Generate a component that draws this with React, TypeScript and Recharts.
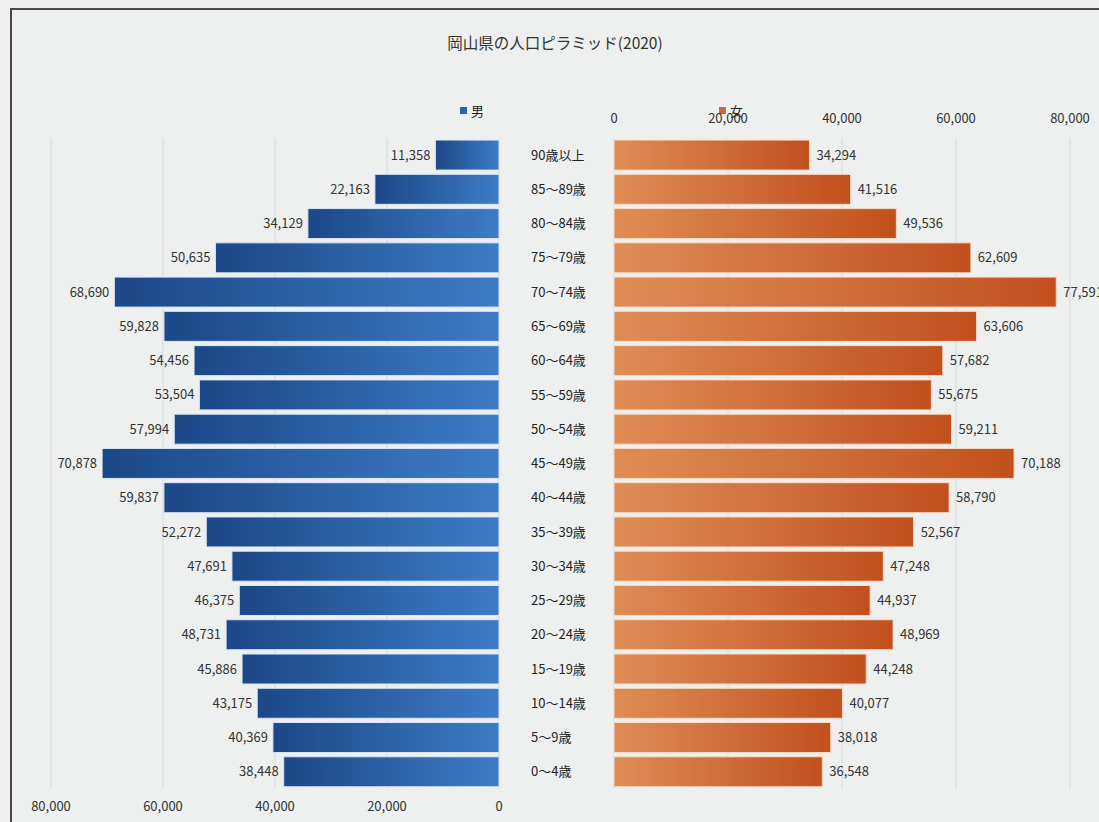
import React from "react";
import { BarChart, Bar, XAxis, YAxis, CartesianGrid } from "recharts";

const ages = [
  "90歳以上", "85～89歳", "80～84歳", "75～79歳", "70～74歳", "65～69歳", "60～64歳",
  "55～59歳", "50～54歳", "45～49歳", "40～44歳", "35～39歳", "30～34歳", "25～29歳",
  "20～24歳", "15～19歳", "10～14歳", "5～9歳", "0～4歳",
];
const male = [
  11358, 22163, 34129, 50635, 68690, 59828, 54456, 53504, 57994, 70878,
  59837, 52272, 47691, 46375, 48731, 45886, 43175, 40369, 38448,
];
const female = [
  34294, 41516, 49536, 62609, 77591, 63606, 57682, 55675, 59211, 70188,
  58790, 52567, 47248, 44937, 48969, 44248, 40077, 38018, 36548,
];
const ticks = [0, 20000, 40000, 60000, 80000];

const rows = ages.map((age, i) => ({ age, male: male[i], female: female[i] }));

const FONT = '"Noto Sans CJK JP", "Noto Sans", sans-serif';
const fmt = (v: number) => v.toLocaleString("en-US");

function MaleLabel(p: any) {
  const left = Math.min(p.x, p.x + p.width);
  return (
    <text x={left - 5} y={p.y + p.height / 2} dy="0.35em" textAnchor="end"
      fontSize={13} fill="#333" fontFamily={FONT}>
      {fmt(p.value)}
    </text>
  );
}

function FemaleLabel(p: any) {
  const right = Math.max(p.x, p.x + p.width);
  return (
    <text x={right + 7} y={p.y + p.height / 2} dy="0.35em" textAnchor="start"
      fontSize={13} fill="#333" fontFamily={FONT}>
      {fmt(p.value)}
    </text>
  );
}

function AgeTick(p: any) {
  return (
    <text x={p.x} y={p.y} dy="0.35em" textAnchor="start" fontSize={13}
      fill="#222" fontFamily={FONT}>
      {p.payload.value}
    </text>
  );
}

export default function App() {
  return (
    <div style={{ position: "absolute", left: 0, top: 0, width: 1099, height: 822,
      background: "#eef0f0", overflow: "hidden", fontFamily: FONT }}>
      <div style={{ position: "absolute", left: 10, top: 8, width: 1200, height: 900,
        borderLeft: "2px solid #4a4a4a", borderTop: "2px solid #4a4a4a" }} />
      <div style={{ position: "absolute", left: 0, width: 1110, top: 31, textAlign: "center",
        fontSize: 15.5, color: "#333" }}>
        岡山県の人口ピラミッド(2020)
      </div>
      <div style={{ position: "absolute", left: 460, top: 101, fontSize: 13, color: "#222",
        display: "flex", alignItems: "center" }}>
        <span style={{ width: 7, height: 7, background: "#2b62b0", marginRight: 4 }} />男
      </div>
      <div style={{ position: "absolute", left: 719, top: 101, fontSize: 13, color: "#222",
        display: "flex", alignItems: "center" }}>
        <span style={{ width: 7, height: 7, background: "#c86a35", marginRight: 4 }} />女
      </div>

      <div style={{ position: "absolute", left: 0, top: 0 }}>
        <BarChart width={612} height={822} data={rows} layout="vertical"
          margin={{ top: 138, right: 0, bottom: 3, left: 51 }} barCategoryGap="6%">
          <defs>
            <linearGradient id="maleGrad" x1="0" y1="0" x2="1" y2="0">
              <stop offset="0%" stopColor="#1c4788" />
              <stop offset="100%" stopColor="#3d7cc6" />
            </linearGradient>
          </defs>
          <CartesianGrid horizontal={false} stroke="#d6dada" />
          <XAxis type="number" domain={[0, 80000]} ticks={ticks} reversed
            tickFormatter={fmt} axisLine={false} tickLine={false} tickSize={0}
            tickMargin={13} height={30} interval={0}
            tick={{ fontSize: 13, fill: "#333", fontFamily: FONT }} />
          <YAxis type="category" dataKey="age" orientation="right" width={113}
            axisLine={false} tickLine={false} tickSize={0} tickMargin={32}
            tick={<AgeTick />} interval={0} />
          <Bar dataKey="male" fill="url(#maleGrad)" stroke="#dce6f4" strokeWidth={1}
            isAnimationActive={false} label={<MaleLabel />} />
        </BarChart>
      </div>

      <div style={{ position: "absolute", left: 598, top: 0 }}>
        <BarChart width={501} height={822} data={rows} layout="vertical"
          margin={{ top: 108, right: 29, bottom: 33, left: 16 }} barCategoryGap="6%">
          <defs>
            <linearGradient id="femaleGrad" x1="0" y1="0" x2="1" y2="0">
              <stop offset="0%" stopColor="#df8d55" />
              <stop offset="100%" stopColor="#c2501e" />
            </linearGradient>
          </defs>
          <CartesianGrid horizontal={false} stroke="#d6dada" />
          <XAxis type="number" domain={[0, 80000]} ticks={ticks} orientation="top"
            tickFormatter={fmt} axisLine={false} tickLine={false} tickSize={0}
            tickMargin={15} height={30} interval={0}
            tick={{ fontSize: 13, fill: "#333", fontFamily: FONT }} />
          <YAxis type="category" dataKey="age" hide />
          <Bar dataKey="female" fill="url(#femaleGrad)" stroke="#f7dcc8" strokeWidth={1}
            isAnimationActive={false} label={<FemaleLabel />} />
        </BarChart>
      </div>
    </div>
  );
}
